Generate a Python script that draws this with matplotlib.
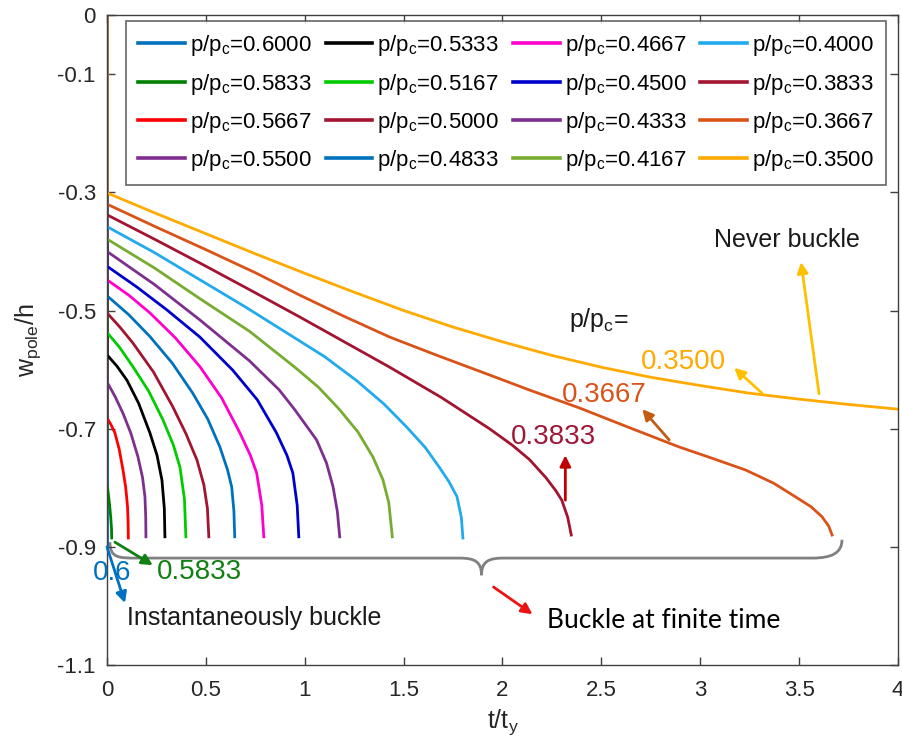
import matplotlib
matplotlib.use("Agg")
import matplotlib.pyplot as plt
from matplotlib.path import Path
import matplotlib.patches as mpatches

plt.rcParams['font.family'] = ['Liberation Sans', 'DejaVu Sans']
plt.rcParams['mathtext.default'] = 'regular'
plt.rcParams['axes.unicode_minus'] = False

# --- pole deflection histories, one per load ratio p/pc ---
p_ratio = ['0.6000', '0.5833', '0.5667', '0.5500',
           '0.5333', '0.5167', '0.5000', '0.4833',
           '0.4667', '0.4500', '0.4333', '0.4167',
           '0.4000', '0.3833', '0.3667', '0.3500']

t_curves = [
    [0, 0],
    [0, 0, 0.006, 0.013, 0.019, 0.023, 0.024],
    [0, 0, 0.020, 0.040, 0.062, 0.081, 0.095, 0.104, 0.107, 0.108],
    [0, 0, 0.040, 0.081, 0.121, 0.157, 0.180, 0.192, 0.196, 0.197],
    [0, 0, 0.050, 0.101, 0.160, 0.217, 0.253, 0.278, 0.290, 0.293],
    [0, 0, 0.065, 0.131, 0.210, 0.283, 0.335, 0.369, 0.392, 0.399],
    [0, 0, 0.065, 0.131, 0.235, 0.333, 0.400, 0.455, 0.490, 0.508, 0.515],
    [0, 0, 0.110, 0.217, 0.330, 0.434, 0.510, 0.571, 0.610, 0.631, 0.642, 0.646],
    [0, 0, 0.110, 0.217, 0.345, 0.470, 0.580, 0.672, 0.725, 0.757, 0.783, 0.793],
    [0, 0, 0.150, 0.303, 0.470, 0.636, 0.760, 0.857, 0.910, 0.940, 0.962, 0.970],
    [0, 0, 0.240, 0.470, 0.720, 0.870, 0.950, 1.060, 1.110, 1.143, 1.165, 1.177],
    [0, 0, 0.240, 0.470, 0.720, 0.950, 1.070, 1.177, 1.270, 1.345, 1.395, 1.425, 1.443],
    [0, 0, 0.240, 0.470, 0.700, 0.924, 1.100, 1.260, 1.400, 1.515, 1.610, 1.680,
     1.730, 1.770, 1.792, 1.800],
    [0, 0, 0.250, 0.500, 0.750, 0.975, 1.200, 1.430, 1.690, 1.934, 2.050, 2.136,
     2.220, 2.270, 2.300, 2.330, 2.348],
    [0, 0, 0.250, 0.500, 0.750, 0.975, 1.200, 1.430, 1.670, 1.910, 2.140, 2.390,
     2.640, 2.894, 3.060, 3.230, 3.370, 3.485, 3.560, 3.616, 3.650, 3.667],
    [0, 0, 0.250, 0.500, 0.750, 1.000, 1.250, 1.500, 1.750, 2.000, 2.250, 2.500,
     2.750, 3.000, 3.250, 3.500, 3.750, 4.000],
]
w_curves = [
    [0, -0.900],
    [0, -0.792, -0.808, -0.828, -0.850, -0.870, -0.885],
    [0, -0.682, -0.693, -0.707, -0.735, -0.770, -0.800, -0.832, -0.860, -0.885],
    [0, -0.621, -0.645, -0.674, -0.708, -0.748, -0.783, -0.815, -0.850, -0.883],
    [0, -0.575, -0.594, -0.618, -0.657, -0.707, -0.745, -0.787, -0.835, -0.883],
    [0, -0.537, -0.563, -0.595, -0.636, -0.685, -0.727, -0.765, -0.820, -0.883],
    [0, -0.504, -0.528, -0.555, -0.604, -0.663, -0.709, -0.753, -0.795, -0.835, -0.883],
    [0, -0.475, -0.507, -0.544, -0.589, -0.640, -0.684, -0.731, -0.770, -0.799, -0.840, -0.883],
    [0, -0.448, -0.474, -0.504, -0.546, -0.595, -0.648, -0.707, -0.745, -0.775, -0.830, -0.883],
    [0, -0.425, -0.460, -0.499, -0.545, -0.601, -0.651, -0.707, -0.745, -0.775, -0.830, -0.883],
    [0, -0.400, -0.456, -0.516, -0.585, -0.634, -0.668, -0.719, -0.758, -0.798, -0.840, -0.883],
    [0, -0.379, -0.428, -0.480, -0.535, -0.596, -0.630, -0.668, -0.706, -0.748, -0.786,
     -0.825, -0.883],
    [0, -0.358, -0.402, -0.448, -0.494, -0.541, -0.578, -0.618, -0.658, -0.697, -0.732,
     -0.765, -0.790, -0.815, -0.850, -0.885],
    [0, -0.338, -0.381, -0.425, -0.470, -0.511, -0.553, -0.596, -0.647, -0.700, -0.728,
     -0.752, -0.783, -0.805, -0.821, -0.850, -0.880],
    [0, -0.320, -0.359, -0.397, -0.436, -0.474, -0.510, -0.545, -0.576, -0.606, -0.635,
     -0.665, -0.698, -0.731, -0.750, -0.770, -0.792, -0.816, -0.832, -0.849, -0.865, -0.880],
    [0, -0.301, -0.336, -0.370, -0.404, -0.437, -0.469, -0.500, -0.528, -0.553, -0.576,
     -0.596, -0.613, -0.627, -0.640, -0.650, -0.659, -0.667],
]

colors = ['#0072BD', '#008000', '#FF0000', '#7E2F8E',
          '#000000', '#00CC00', '#A2142F', '#0072BD',
          '#FF00CC', '#0000CC', '#7E2F8E', '#77AC30',
          '#22AAEE', '#A2142F', '#D95319', '#FFAA00']

x_ticks = [0, 0.5, 1, 1.5, 2, 2.5, 3, 3.5, 4]
x_ticklabels = ['0', '0.5', '1', '1.5', '2', '2.5', '3', '3.5', '4']
y_ticks = [0, -0.1, -0.3, -0.5, -0.7, -0.9, -1.1]
y_ticklabels = ['0', '-0.1', '-0.3', '-0.5', '-0.7', '-0.9', '-1.1']

# --- figure ---
fig = plt.figure(figsize=(9.02, 7.49), dpi=100)
ax = fig.add_axes([0.1186, 0.1121, 0.8769, 0.8678])

for t, w, p, c in zip(t_curves, w_curves, p_ratio, colors):
    ax.plot(t, w, color=c, lw=2.0, label='p/p$_c$=' + p, solid_joinstyle='round')

ax.set_xlim(0, 4)
ax.set_ylim(-1.1, 0)
ax.set_xticks(x_ticks)
ax.set_xticklabels(x_ticklabels)
ax.set_yticks(y_ticks)
ax.set_yticklabels(y_ticklabels)
ax.tick_params(direction='in', top=True, right=True, length=6, width=1,
               color='#404040', labelcolor='#262626', labelsize=16)
ax.tick_params(axis='y', pad=8)
ax.tick_params(axis='x', pad=11)
for s in ax.spines.values():
    s.set_color('#404040')
    s.set_linewidth(1.0)

ax.set_xlabel('t/t$_y$', fontsize=18, color='#262626', labelpad=4)
ax.set_ylabel('w$_{pole}$/h', fontsize=18, color='#262626', labelpad=10)

leg = ax.legend(loc='upper left', bbox_to_anchor=(0.024, 0.5, 0.961, 0.4908),
                mode='expand', ncol=4, fontsize=16, frameon=True, fancybox=False,
                handlelength=2.1, handletextpad=0.23, columnspacing=0.3,
                labelspacing=0.6, borderaxespad=0, borderpad=0.55)
leg.get_frame().set_edgecolor('#404040')
leg.get_frame().set_linewidth(1.2)
for h in leg.get_lines():
    h.set_linewidth(2.6)

# --- annotations ---
def arrow(x0, y0, x1, y1, c):
    ax.annotate('', xy=(x1, y1), xytext=(x0, y0),
                arrowprops=dict(arrowstyle='-|>', color=c, lw=2.0,
                                mutation_scale=16, shrinkA=0, shrinkB=0),
                annotation_clip=False)

ax.text(2.338, -0.516, 'p/p$_c$=', fontsize=18, color='#1a1a1a', va='center')
ax.text(2.702, -0.587, '0.3500', fontsize=20, color='#FFAA00', va='center')
ax.text(2.298, -0.643, '0.3667', fontsize=20, color='#D95319', va='center')
ax.text(2.045, -0.714, '0.3833', fontsize=20, color='#A01838', va='center')
ax.text(3.071, -0.381, 'Never buckle', fontsize=18, color='#1a1a1a', va='center')

arrow(3.313, -0.640, 3.172, -0.597, '#FFC000')
arrow(3.601, -0.641, 3.510, -0.418, '#FFC000')
arrow(2.843, -0.719, 2.707, -0.667, '#C55A11')
arrow(2.318, -0.821, 2.318, -0.745, '#C00000')

ax.text(-0.071, -0.944, '0.6', fontsize=20, color='#0070C0', va='center', clip_on=False)
ax.text(0.253, -0.942, '0.5833', fontsize=20, color='#108010', va='center')
arrow(0.0, -0.900, 0.091, -0.995, '#0070C0')
arrow(0.040, -0.892, 0.232, -0.931, '#108010')

ax.text(0.101, -1.020, 'Instantaneously buckle', fontsize=18, color='#1a1a1a', va='center')
ax.text(2.227, -1.024, 'Buckle at finite time', fontsize=19, color='black',
        va='center', family=['Lato', 'DejaVu Sans'])
arrow(1.955, -0.968, 2.152, -1.014, '#EE1111')

# curly brace under the buckling ends
verts = [(0.015, -0.892), (0.015, -0.919), (0.060, -0.919), (0.152, -0.919),
         (1.783, -0.919),
         (1.860, -0.919), (1.894, -0.925), (1.894, -0.948),
         (1.894, -0.925), (1.928, -0.919), (2.005, -0.919),
         (3.566, -0.919),
         (3.667, -0.919), (3.717, -0.910), (3.717, -0.888)]
codes = [Path.MOVETO, Path.CURVE4, Path.CURVE4, Path.CURVE4,
         Path.LINETO,
         Path.CURVE4, Path.CURVE4, Path.CURVE4,
         Path.CURVE4, Path.CURVE4, Path.CURVE4,
         Path.LINETO,
         Path.CURVE4, Path.CURVE4, Path.CURVE4]
ax.add_patch(mpatches.PathPatch(Path(verts, codes), facecolor='none',
                                edgecolor='#808080', lw=2.0))

fig.savefig('out.png', dpi=100, facecolor='white')
